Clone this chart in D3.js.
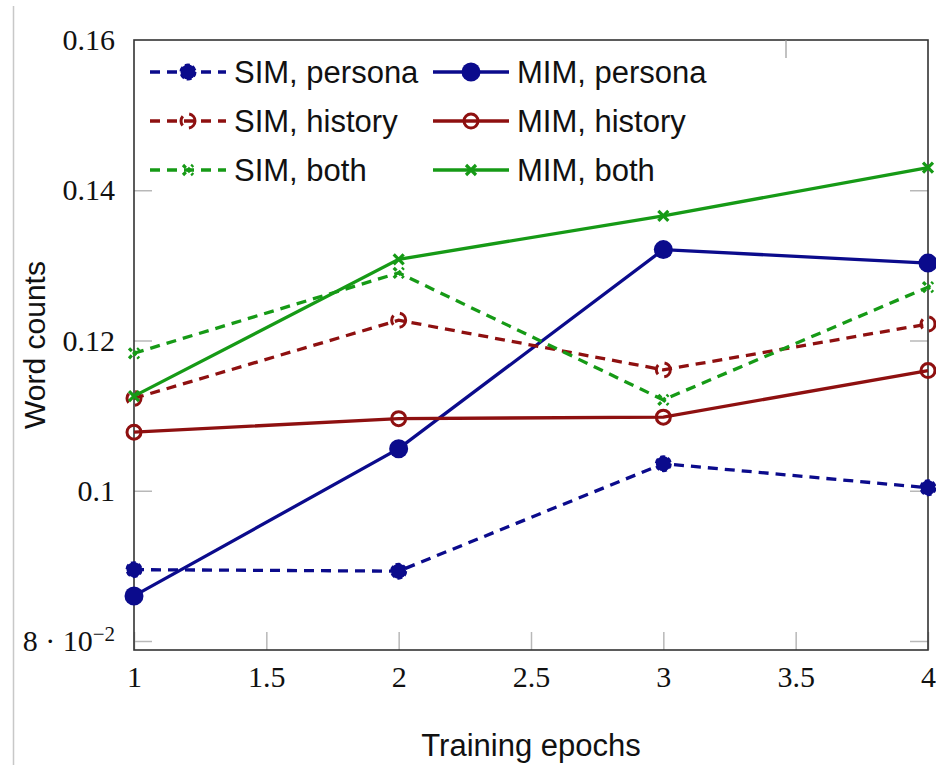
<!DOCTYPE html>
<html>
<head>
<meta charset="utf-8">
<script src="https://cdn.jsdelivr.net/npm/d3@7"></script>
<style>
  body { margin: 0; background: #fff; }
</style>
</head>
<body>
<div class="canvas"></div>
<script>
// data
const epochs = [1, 2, 3, 4]
const simPersona = [0.0895, 0.0893, 0.1036, 0.1004]
const mimPersona = [0.0860, 0.1056, 0.1321, 0.1303]
const simHistory = [0.1123, 0.1227, 0.1161, 0.1222]
const mimHistory = [0.1078, 0.1096, 0.1098, 0.1160]
const simBoth = [0.1183, 0.1290, 0.1121, 0.1271]
const mimBoth = [0.1126, 0.1308, 0.1366, 0.1430]
const xTicks = [1, 1.5, 2, 2.5, 3, 3.5, 4]
const yTicks = [0.08, 0.1, 0.12, 0.14, 0.16]

const width = 936
const height = 765
const plotLeft = 134, plotRight = 928, plotTop = 40, plotBottom = 650

const blue = "#0b0b8c"
const red = "#8e1010"
const green = "#169a16"
const dash = "10,7"

const series = [
    { name: "SIM, persona", values: simPersona, color: blue, dashed: true, mark: "dot", r: 7.5 },
    { name: "MIM, persona", values: mimPersona, color: blue, dashed: false, mark: "dot", r: 9.5 },
    { name: "SIM, history", values: simHistory, color: red, dashed: true, mark: "ring", r: 7 },
    { name: "MIM, history", values: mimHistory, color: red, dashed: false, mark: "ring", r: 7 },
    { name: "SIM, both", values: simBoth, color: green, dashed: true, mark: "cross", r: 5 },
    { name: "MIM, both", values: mimBoth, color: green, dashed: false, mark: "cross", r: 5 }
]

const svg = d3.select(".canvas").append("svg")
    .attr("width", width)
    .attr("height", height)

const x = d3.scaleLinear().domain([1, 4]).range([plotLeft, plotRight])
const y = d3.scaleLinear().domain([0.08, 0.16]).range([641, plotTop])

// thin page edge line on the left
svg.append("line")
    .attr("x1", 13.5).attr("x2", 13.5)
    .attr("y1", 6).attr("y2", height)
    .style("stroke", "#c8c8c8").style("stroke-width", 1.5)

// axes with inward gray ticks
const serif = "'Liberation Serif', 'DejaVu Serif', serif"
const sans = "'Liberation Sans', Arial, sans-serif"

const xAxis = svg.append("g")
    .attr("transform", `translate(0,${plotBottom})`)
    .call(d3.axisBottom(x).tickValues(xTicks).tickSize(-18).tickPadding(16)
        .tickFormat(d => d3.format("")(d)))
xAxis.select(".domain").remove()

const yAxis = svg.append("g")
    .attr("transform", `translate(${plotLeft},0)`)
    .call(d3.axisLeft(y).tickValues(yTicks).tickSize(-18).tickPadding(19)
        .tickFormat(d => d === 0.08 ? "" : d3.format("")(+d.toFixed(2))))
yAxis.select(".domain").remove()

const yAxisR = svg.append("g")
    .attr("transform", `translate(${plotRight},0)`)
    .call(d3.axisRight(y).tickValues(yTicks.slice(0, 4)).tickSize(-18).tickFormat(""))
yAxisR.select(".domain").remove()

svg.selectAll(".tick line").style("stroke", "#b8b8b8").style("stroke-width", 1.5)
svg.selectAll(".tick text")
    .style("font-family", serif)
    .style("font-size", "30px")
    .style("fill", "#111")

// hide the gray tick at the top (covered by the frame / legend)
yAxis.selectAll(".tick").filter(d => d === 0.16).select("line").remove()

// 8·10^-2 label
const lab = svg.append("text")
    .attr("x", plotLeft - 19)
    .attr("y", y(0.08))
    .attr("dy", "0.32em")
    .attr("text-anchor", "end")
    .style("font-family", serif)
    .style("font-size", "30px")
    .style("fill", "#111")
lab.append("tspan").text("8 \u00b7 10")
lab.append("tspan").attr("dy", "-0.45em").style("font-size", "21px").text("\u22122")

// frame
svg.append("rect")
    .attr("x", plotLeft).attr("y", plotTop)
    .attr("width", plotRight - plotLeft).attr("height", plotBottom - plotTop)
    .style("fill", "none")
    .style("stroke", "#333")
    .style("stroke-width", 1.6)

// lines
const line = d3.line()
    .x((d, i) => x(epochs[i]))
    .y(d => y(d))

function drawMark(g, s, cx, cy) {
    if (s.mark === "dot") {
        g.append("circle")
            .attr("cx", cx).attr("cy", cy).attr("r", s.r)
            .style("fill", s.color)
            .style("stroke", s.color)
            .style("stroke-width", s.dashed ? 2 : 0)
            .style("stroke-dasharray", s.dashed ? "5,3" : null)
    } else if (s.mark === "ring") {
        g.append("circle")
            .attr("cx", cx).attr("cy", cy).attr("r", s.r)
            .style("fill", "none")
            .style("stroke", s.color)
            .style("stroke-width", 3)
            .style("stroke-dasharray", s.dashed ? "10,7" : null)
    } else {
        const r = s.r
        g.append("path")
            .attr("d", `M${cx - r},${cy - r}L${cx + r},${cy + r}M${cx - r},${cy + r}L${cx + r},${cy - r}`)
            .style("stroke", s.color)
            .style("stroke-width", 3.2)
            .style("stroke-dasharray", s.dashed ? "4,2" : null)
    }
}

series.forEach(s => {
    const g = svg.append("g")
    g.append("path")
        .attr("d", line(s.values))
        .style("fill", "none")
        .style("stroke", s.color)
        .style("stroke-width", 3.3)
        .style("stroke-dasharray", s.dashed ? dash : null)
    s.values.forEach((v, i) => drawMark(g, s, x(epochs[i]), y(v)))
})

// legend, two columns
const legX = [150, 433]
const legY = [72, 121, 170]
series.forEach((s, i) => {
    const col = i % 2
    const row = Math.floor(i / 2)
    const lx = legX[col], ly = legY[row]
    const g = svg.append("g")
    g.append("line")
        .attr("x1", lx).attr("x2", lx + 76)
        .attr("y1", ly).attr("y2", ly)
        .style("stroke", s.color)
        .style("stroke-width", 3.3)
        .style("stroke-dasharray", s.dashed ? dash : null)
    drawMark(g, s, lx + 38, ly)
    g.append("text")
        .attr("x", lx + 84)
        .attr("y", ly)
        .attr("dy", "0.36em")
        .style("font-family", sans)
        .style("font-size", "31px")
        .style("fill", "#111")
        .text(s.name)
})

// small legend edge remnant at the top
svg.append("line")
    .attr("x1", 786).attr("x2", 786)
    .attr("y1", plotTop).attr("y2", 58)
    .style("stroke", "#999").style("stroke-width", 1.2)

// axis titles
svg.append("text")
    .attr("x", 531)
    .attr("y", 756)
    .attr("text-anchor", "middle")
    .style("font-family", sans)
    .style("font-size", "31px")
    .style("fill", "#111")
    .text("Training epochs")

svg.append("text")
    .attr("transform", `translate(45,${(plotTop + plotBottom) / 2}) rotate(-90)`)
    .attr("text-anchor", "middle")
    .style("font-family", sans)
    .style("font-size", "30px")
    .style("fill", "#111")
    .text("Word counts")
</script>
</body>
</html>
